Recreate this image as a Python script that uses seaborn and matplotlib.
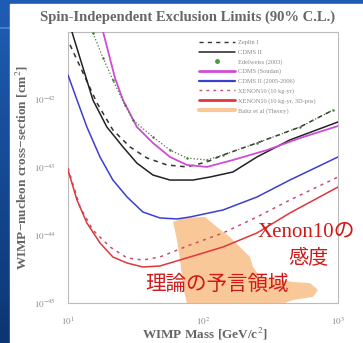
import numpy as np
import pandas as pd
import matplotlib
matplotlib.use("Agg")
import matplotlib.pyplot as plt
from matplotlib.patches import Rectangle
from matplotlib.lines import Line2D
from matplotlib.ticker import FixedLocator
from matplotlib.colors import LinearSegmentedColormap
import seaborn as sns

# ---------------- data ----------------
title = "Spin-Independent Exclusion Limits (90% C.L.)"
xlabel = "WIMP Mass [GeV/c$^2$]"
ylabel = "WIMP\u2212nucleon cross\u2212section [cm$^2$]"

legend_labels = ["Zeplin I", "CDMS II", "Edelweiss (2003)", "CDMS (Soudan)",
                 "CDMS II (2005-2006)", "XENON10 (10 kg-yr)",
                 "XENON10 (10 kg-yr, 3D-pos)", "Baltz et al (Theory)"]

# black dashed
m_dash = [10.35, 16.4, 21.5, 28.8, 38.5, 54.1, 76.0, 107, 140.6, 251, 523, 919]
s_dash = [6.46e-42, 8.95e-43, 3.58e-43, 2.01e-43, 1.38e-43, 1.09e-43, 1.02e-43,
          1.21e-43, 1.53e-43, 2.30e-43, 3.96e-43, 7.06e-43]
# black solid
m_black = [10.7, 15.3, 19.4, 25.55, 32.4, 42.6, 57.0, 84.3, 112.7, 166.7, 251, 440, 1000]
s_black = [1.0e-41, 9.91e-43, 3.96e-43, 2.01e-43, 1.16e-43, 7.74e-44, 6.53e-44,
           6.53e-44, 7.24e-44, 8.59e-44, 1.43e-43, 2.55e-43, 4.70e-43]
# green markers (dotted)
m_green = [15.3, 18.2, 21.5, 26.4, 30.3, 42.6, 57.0, 76.0, 107, 140.6, 251, 523, 919]
s_green = [9.66e-42, 4.13e-42, 1.96e-42, 8.37e-43, 5.0e-43, 2.82e-43, 1.81e-43,
           1.38e-43, 1.29e-43, 1.53e-43, 2.30e-43, 3.96e-43, 7.06e-43]
# magenta solid
m_pink = [18.2, 22.3, 25.55, 32.4, 42.6, 57.0, 76.0, 107, 166.7, 298, 523, 1000]
s_pink = [1.0e-41, 2.09e-42, 9.91e-43, 3.96e-43, 2.30e-43, 1.43e-43, 1.09e-43,
          1.02e-43, 1.29e-43, 1.81e-43, 2.72e-43, 4.10e-43]
# blue solid
m_blue = [10.0, 11.66, 13.8, 17.26, 21.5, 27.4, 35.9, 48.0, 64.2, 80.1, 140.6, 251, 440, 1000]
s_blue = [2.32e-42, 9.91e-43, 3.96e-43, 1.43e-43, 6.53e-44, 3.67e-44, 2.20e-44,
          1.80e-44, 1.74e-44, 1.86e-44, 2.36e-44, 3.67e-44, 6.53e-44, 1.43e-43]
# red dashed
m_reddash = [10.0, 12.27, 15.3, 20.5, 27.4, 35.9, 48.0, 80.1, 140.6, 251, 440, 1000]
s_reddash = [9.84e-44, 2.61e-44, 1.19e-44, 6.71e-45, 4.62e-45, 4.31e-45, 4.78e-45,
             7.18e-45, 1.08e-44, 1.86e-44, 3.31e-44, 7.24e-44]
# red solid
m_red = [10.0, 11.66, 13.8, 17.26, 21.5, 27.4, 35.9, 48.0, 80.1, 140.6, 251, 440, 1000]
s_red = [9.19e-44, 3.31e-44, 1.52e-44, 7.69e-45, 4.78e-45, 3.89e-45, 3.40e-45,
         3.52e-45, 4.78e-45, 6.71e-45, 1.08e-44, 2.13e-44, 5.15e-44]
# theory region outline
m_theory = [60, 71.1, 103.5, 127, 158.5, 197.8, 222.8, 234.6, 264, 464, 621, 711,
            653, 464, 405, 76, 71.1, 67.6, 64.2]
s_theory = [1.57e-44, 1.80e-44, 1.86e-44, 1.32e-44, 9.4e-45, 6.05e-45, 4.78e-45,
            3.40e-45, 2.42e-45, 2.04e-45, 1.97e-45, 1.56e-45, 1.23e-45, 1.11e-45,
            1.0e-45, 1.0e-45, 1.72e-45, 4.31e-45, 8.5e-45]

x_ticks = [10, 100, 1000]
x_ticklabels = ["$10^{1}$", "$10^{2}$", "$10^{3}$"]
y_ticks = [1e-45, 1e-44, 1e-43, 1e-42]
y_ticklabels = ["$10^{-45}$", "$10^{-44}$", "$10^{-43}$", "$10^{-42}$"]

ann_xenon = "Xenon10の"
ann_kando = "感度"
ann_theory = "理論の予言領域"

# ---------------- style ----------------
sns.set_theme(style="white")
plt.rcParams["font.family"] = ["Liberation Serif", "Noto Sans CJK JP", "DejaVu Sans"]
plt.rcParams["mathtext.fontset"] = "stix"

W, H = 363, 343
fig = plt.figure(figsize=(W / 100, H / 100), dpi=100)
fig.patch.set_facecolor("#164c9c")

# blue slide background gradient
bg = fig.add_axes([0, 0, 1, 1], zorder=-10)
grad = np.linspace(0, 1, 256).reshape(-1, 1)
cm = LinearSegmentedColormap.from_list("bg", ["#1f5db4", "#0c3672"])
bg.imshow(grad, aspect="auto", cmap=cm, extent=[0, 1, 0, 1], origin="upper")
bg.plot([0, 1], [1 - 28 / H, 1 - 28 / H], color="#4f86d0", lw=1.2)
bg.add_patch(Rectangle((10 / W, 0), 1, 1 - 4 / H, color="white", zorder=5))
bg.set_xlim(0, 1); bg.set_ylim(0, 1)
bg.axis("off")

ax = fig.add_axes([68 / W, 1 - 303 / H, 270 / W, 271 / H])
ax.set_facecolor("white")
ax.set_xscale("log")
ax.set_yscale("log")

# theory region
ax.fill(m_theory, s_theory, color="#f9c899", lw=0, zorder=1)

def line(m, s, **kw):
    df = pd.DataFrame({"m": m, "s": s})
    sns.lineplot(data=df, x="m", y="s", ax=ax, sort=False, legend=False, **kw)

line(m_dash, s_dash, color="#333333", lw=1.1, linestyle=(0, (3, 3)), zorder=3)
line(m_black, s_black, color="#222222", lw=1.1, zorder=3)
line(m_pink, s_pink, color="#d04cd6", lw=1.3, zorder=3)
line(m_green, s_green, color="#4a7a3a", lw=0.9, linestyle=":", marker="o",
     markersize=1.8, markeredgewidth=0, zorder=4)
line(m_blue, s_blue, color="#3a3fd0", lw=1.1, zorder=3)
line(m_reddash, s_reddash, color="#c8506a", lw=1.1, linestyle=(0, (2, 3)), zorder=3)
line(m_red, s_red, color="#e0363c", lw=1.1, zorder=3)

ax.set_xlim(10, 1000)
ax.set_ylim(1e-45, 1e-41)
ax.xaxis.set_major_locator(FixedLocator(x_ticks))
ax.yaxis.set_major_locator(FixedLocator(y_ticks))
ax.xaxis.set_minor_locator(plt.NullLocator())
ax.yaxis.set_minor_locator(plt.NullLocator())
ax.set_xticklabels(x_ticklabels)
ax.set_yticklabels(y_ticklabels)
ax.tick_params(axis="both", labelsize=6.5, colors="#888888", length=2, width=0.6,
               direction="in")
ax.tick_params(axis="x", pad=9)
ax.tick_params(axis="y", pad=9)
ax.set_xlabel(""); ax.set_ylabel("")
for sp in ax.spines.values():
    sp.set_color("#bbbbbb")
    sp.set_linewidth(0.8)

# legend
handles = [
    Line2D([], [], color="#333333", lw=1.0, linestyle=(0, (3, 3))),
    Line2D([], [], color="#222222", lw=1.1),
    Line2D([], [], color="#4a9a3a", lw=0, marker="o", markersize=2.5),
    Line2D([], [], color="#d04cd6", lw=2.0),
    Line2D([], [], color="#3a3fd0", lw=1.6),
    Line2D([], [], color="#c8506a", lw=1.0, linestyle=(0, (2, 3))),
    Line2D([], [], color="#e0363c", lw=2.0),
    Line2D([], [], color="#f9c899", lw=3.0),
]
leg = ax.legend(handles, legend_labels, loc="upper left",
                bbox_to_anchor=((195 - 68) / 270, 0.985),
                fontsize=4.6, frameon=False, handlelength=5.6, labelspacing=0.62,
                handletextpad=0.5, borderaxespad=0.2)
for t in leg.get_texts():
    t.set_color("#888888")

# labels and title
fig.text(40 / W, 1 - 17 / H, title, fontsize=10.5, fontweight="bold",
         color="#666666", ha="left", va="center")
fig.text(22 / W, 1 - 168 / H, ylabel, fontsize=9.5, fontweight="bold",
         color="#666666", rotation=90, ha="center", va="center")
fig.text(205 / W, 1 - 334 / H, xlabel, fontsize=9.5, fontweight="bold",
         color="#666666", ha="center", va="center")

# annotations
red = "#d01818"
fig.text(258 / W, 1 - 232 / H, ann_xenon, fontsize=15, color=red,
         ha="left", va="center", family=["Liberation Serif", "Noto Sans CJK JP"])
fig.text(308 / W, 1 - 258 / H, ann_kando, fontsize=14.5, color=red,
         ha="center", va="center", family=["Noto Sans CJK JP"])
fig.text(217 / W, 1 - 284 / H, ann_theory, fontsize=14.8, color=red,
         ha="center", va="center", family=["Noto Sans CJK JP"])

fig.savefig("out.png", dpi=100, facecolor=fig.get_facecolor())
